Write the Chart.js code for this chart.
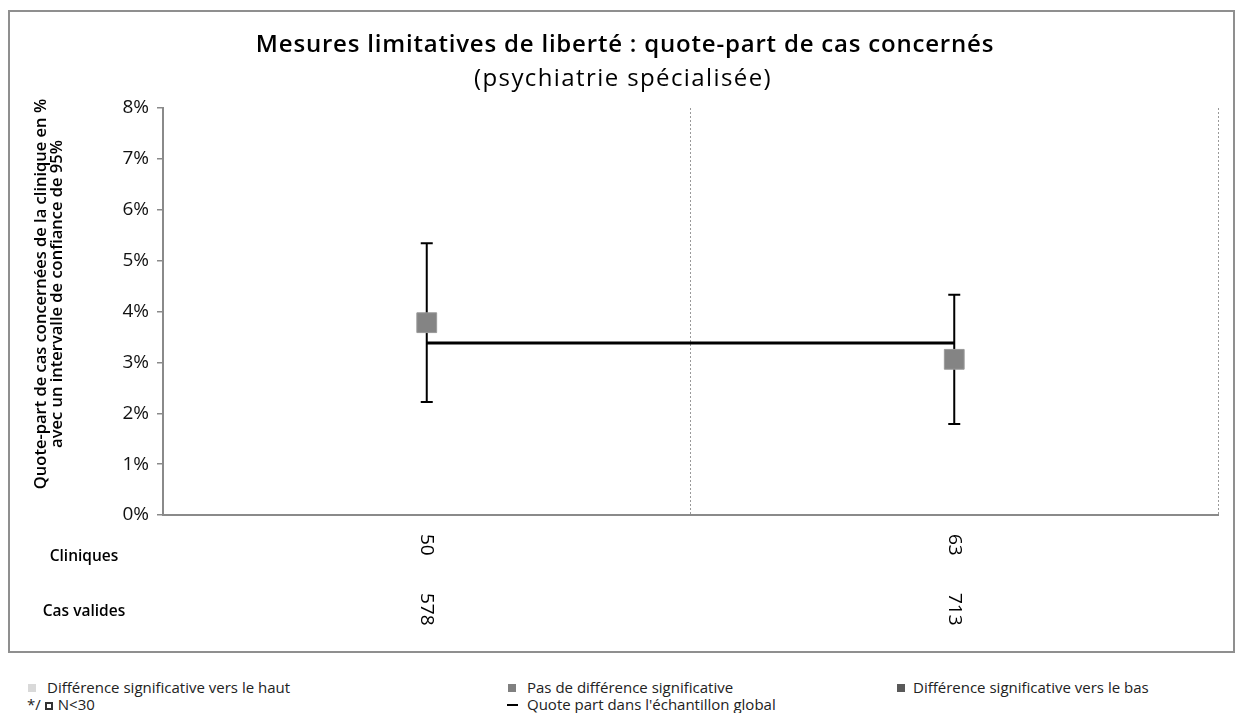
<!DOCTYPE html>
<html lang="fr">
<head>
<meta charset="utf-8">
<script src="https://cdn.jsdelivr.net/npm/chart.js@4"></script>
<style>
  body { margin: 0; background: #fff; width: 1243px; height: 713px; position: relative; overflow: hidden; }
  #frame { position: absolute; left: 8px; top: 10px; width: 1227px; height: 643px; box-sizing: border-box; border: 2px solid #8f8f8f; }
  #frame canvas { display: block; }
  .leg { position: absolute; font-family: 'Open Sans', sans-serif; font-size: 15px; color: #222; line-height: 17px; white-space: nowrap; }
  .sq { position: absolute; width: 8px; height: 8px; top: 5px; }
</style>
</head>
<body>
<div id="frame"><canvas id="chart" width="1223" height="639"></canvas></div>
<div class="leg" style="left:28px;top:679px"><span class="sq" style="left:0;background:#d9d9d9"></span><span style="margin-left:19px">Différence significative vers le haut</span></div>
<div class="leg" style="left:508px;top:679px"><span class="sq" style="left:0;background:#808080"></span><span style="margin-left:19px">Pas de différence significative</span></div>
<div class="leg" style="left:897px;top:679px"><span class="sq" style="left:0;background:#595959"></span><span style="margin-left:16px">Différence significative vers le bas</span></div>
<div class="leg" style="left:27px;top:696px">*/<span class="sq" style="left:18px;top:6px;width:4px;height:4px;border:2px solid #333"></span><span style="margin-left:17px">N&lt;30</span></div>
<div class="leg" style="left:507px;top:696px"><span class="sq" style="left:0;top:8px;width:11px;height:2px;background:#000"></span><span style="margin-left:20px">Quote part dans l'échantillon global</span></div>
<script>
// données
const cliniques = [50, 63];
const casValides = [578, 713];
const quotePart = [3.78, 3.06];     // en %
const ciLow = [2.22, 1.79];
const ciHigh = [5.34, 4.33];
const globalRate = [3.38, 3.38];
const yTicks = [0, 1, 2, 3, 4, 5, 6, 7, 8];

const categories = cliniques.map(String);

Chart.defaults.font.family = "'Open Sans', sans-serif";

// barres d'erreur (intervalle de confiance 95%)
const errorBars = {
  id: 'errorBars',
  beforeDatasetsDraw(chart) {
    const { ctx, scales: { x, y } } = chart;
    ctx.save();
    ctx.strokeStyle = '#000';
    ctx.lineWidth = 2;
    categories.forEach((c, i) => {
      const px = x.getPixelForValue(i);
      const top = y.getPixelForValue(ciHigh[i]);
      const bot = y.getPixelForValue(ciLow[i]);
      ctx.beginPath();
      ctx.moveTo(px, top); ctx.lineTo(px, bot);
      ctx.moveTo(px - 6, top); ctx.lineTo(px + 6, top);
      ctx.moveTo(px - 6, bot); ctx.lineTo(px + 6, bot);
      ctx.stroke();
    });
    ctx.restore();
  }
};

// textes : titre, titre de l'axe, lignes du tableau
const labels = {
  id: 'labels',
  afterDraw(chart) {
    const { ctx, scales: { x } } = chart;
    ctx.save();
    ctx.fillStyle = '#000';
    ctx.textAlign = 'center';
    ctx.textBaseline = 'middle';
    ctx.font = "600 24px 'Open Sans'";
    ctx.letterSpacing = '0.8px';
    ctx.fillText('Mesures limitatives de liberté : quote-part de cas concernés', 615, 33);
    ctx.font = "24px 'Open Sans'";
    ctx.letterSpacing = '1.4px';
    ctx.fillText('(psychiatrie spécialisée)', 613, 67);
    ctx.letterSpacing = '0px';

    ctx.save();
    ctx.translate(39, 282);
    ctx.rotate(-Math.PI / 2);
    ctx.font = "600 16.5px 'Open Sans'";
    ctx.fillText('Quote-part de cas concernées de la clinique en %', 0, -8);
    ctx.fillText('avec un intervalle de confiance de 95%', 0, 8);
    ctx.restore();

    ctx.font = "600 15.5px 'Open Sans'";
    ctx.fillText('Cliniques', 74, 545);
    ctx.fillText('Cas valides', 74, 600);

    ctx.font = "19px 'Open Sans'";
    ctx.textAlign = 'left';
    categories.forEach((c, i) => {
      const px = x.getPixelForValue(i);
      [[cliniques[i], 522], [casValides[i], 581]].forEach(([v, py]) => {
        ctx.save();
        ctx.translate(px, py);
        ctx.rotate(Math.PI / 2);
        ctx.fillText(String(v), 0, 0);
        ctx.restore();
      });
    });
    ctx.restore();
  }
};

new Chart(document.getElementById('chart'), {
  type: 'line',
  data: {
    labels: categories,
    datasets: [
      {
        label: 'Quote part dans l\'échantillon global',
        data: globalRate,
        borderColor: '#000',
        borderWidth: 3,
        pointRadius: 0,
        order: 2
      },
      {
        label: 'Pas de différence significative',
        data: quotePart,
        showLine: false,
        pointStyle: 'rect',
        pointRadius: 14,
        pointHoverRadius: 14,
        backgroundColor: '#848484',
        borderColor: '#9a9a9a',
        borderWidth: 1,
        order: 1
      }
    ]
  },
  options: {
    responsive: false,
    animation: false,
    layout: { padding: { top: 96, right: 9, bottom: 136, left: 0 } },
    plugins: {
      legend: { display: false },
      tooltip: { enabled: false },
      title: { display: false }
    },
    scales: {
      x: {
        type: 'category',
        offset: true,
        ticks: { display: false },
        grid: { offset: true, color: '#999', lineWidth: 1, drawTicks: false },
        border: { color: '#8a8a8a', width: 2, dash: [2, 2] },
        afterFit(s) { s.height = 0; s.paddingLeft = 0; s.paddingRight = 0; }
      },
      y: {
        min: yTicks[0],
        max: yTicks[yTicks.length - 1],
        afterBuildTicks(s) { s.ticks = yTicks.map(v => ({ value: v })); },
        ticks: {
          callback: v => v + '%',
          font: { size: 19 },
          color: '#111',
          padding: 8
        },
        grid: { drawOnChartArea: false, tickLength: 6, color: '#8a8a8a', lineWidth: 1.5 },
        border: { color: '#8a8a8a', width: 2 },
        afterFit(s) { s.width = 153; }
      }
    }
  },
  plugins: [errorBars, labels]
});
</script>
</body>
</html>
